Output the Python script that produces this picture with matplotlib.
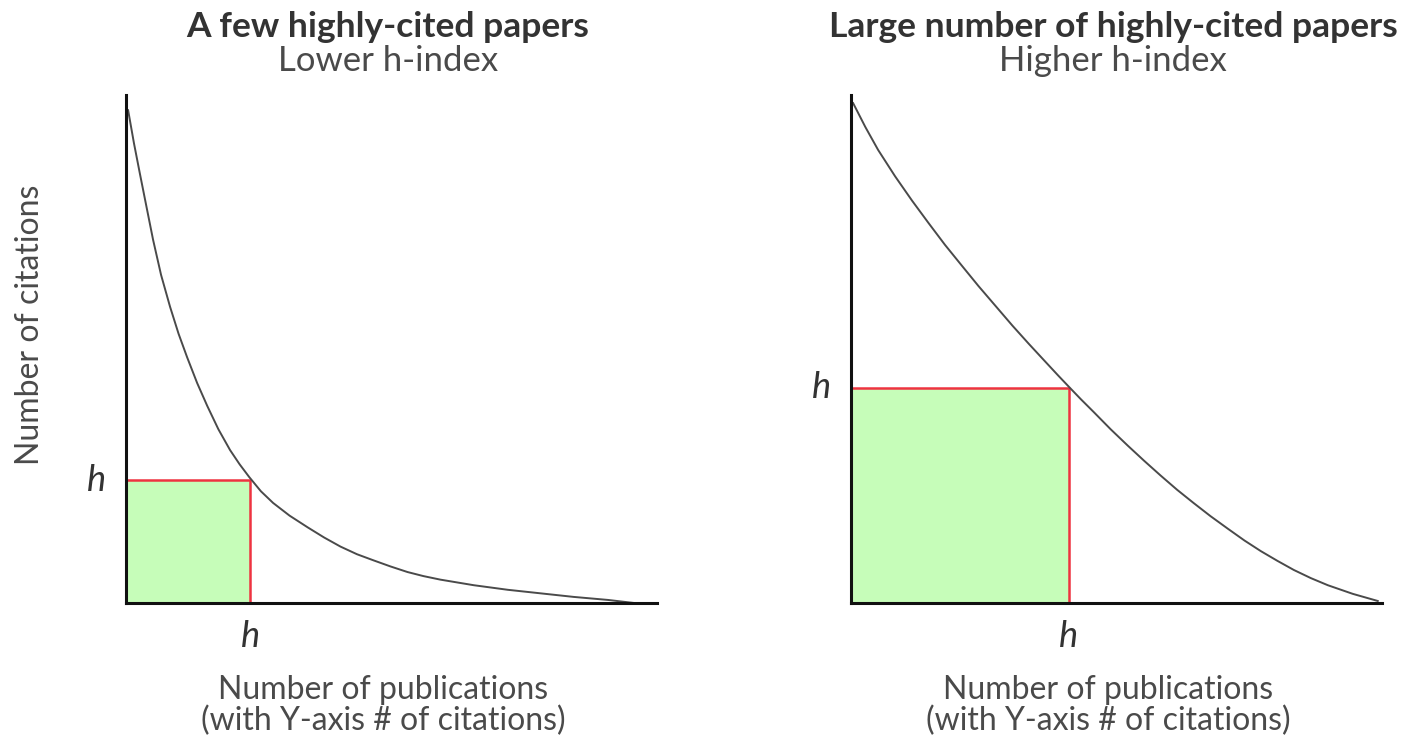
import matplotlib
matplotlib.use("Agg")
import matplotlib.pyplot as plt
from matplotlib.patches import Rectangle

plt.rcParams['font.family'] = ['Lato', 'DejaVu Sans']

# curve (x: publications rank, y: citations), both scaled 0..100
few_x = [0.4, 1.5, 2.6, 3.8, 5.1, 6.6, 8.3, 9.9, 11.5, 13.4, 15.3, 17.4, 19.6,
         21.4, 23.2, 25.4, 27.7, 30.8, 34.2, 37.3, 40.4, 43.5, 46.6, 49.8,
         53.0, 56.0, 59.2, 65.5, 71.9, 78.1, 84.3, 90.8, 95.7]
few_y = [97.0, 90.5, 84.6, 78.3, 71.5, 64.6, 58.3, 53.0, 48.4, 43.3, 38.8, 34.2,
         30.1, 27.3, 24.8, 22.0, 19.7, 17.2, 14.9, 12.9, 11.1, 9.6, 8.4, 7.2,
         6.1, 5.3, 4.6, 3.5, 2.6, 1.9, 1.2, 0.6, 0.0]
few_h = (23.4, 24.2)   # (publications, citations) of the h corner

many_x = [0.4, 2.7, 5.1, 8.3, 11.5, 14.6, 17.7, 20.8, 24.0, 27.2, 30.4, 33.5,
          36.6, 39.0, 41.0, 43.3, 45.7, 48.9, 52.1, 55.2, 58.3, 61.4, 64.5,
          67.7, 71.0, 74.1, 77.2, 80.3, 83.4, 86.6, 89.8, 94.5, 99.2]
many_y = [98.4, 93.7, 89.2, 84.0, 79.2, 74.8, 70.5, 66.5, 62.4, 58.5, 54.6, 51.0,
          47.5, 44.8, 42.6, 40.1, 37.6, 34.2, 31.0, 28.0, 25.1, 22.3, 19.7,
          17.1, 14.6, 12.3, 10.2, 8.3, 6.5, 4.9, 3.5, 1.8, 0.4]
many_h = (41.0, 42.4)

titles = ["A few highly-cited papers", "Large number of highly-cited papers"]
subtitles = ["Lower h-index", "Higher h-index"]
xlabel = ["Number of publications", "(with Y-axis # of citations)"]
ylabel = "Number of citations"

W, H = 1414, 738
fig = plt.figure(figsize=(W / 100, H / 100), dpi=100)


def panel(left_px, xs, ys, h, title, subtitle):
    hx, hy = h
    ax = fig.add_axes([left_px / W, (H - 603) / H, 531 / W, 508 / H])
    ax.set_xlim(0, 100)
    ax.set_ylim(0, 100)
    for s in ['top', 'right']:
        ax.spines[s].set_visible(False)
    for s in ['left', 'bottom']:
        ax.spines[s].set_linewidth(2.2)
        ax.spines[s].set_color('#111111')
        ax.spines[s].set_zorder(5)
    ax.set_xticks([])
    ax.set_yticks([])
    ax.add_patch(Rectangle((0, 0), hx, hy, facecolor='#c6fdb9', edgecolor='none', zorder=1))
    ax.plot([0, hx, hx], [hy, hy, 0], color='#ee3340', lw=1.8, zorder=3, clip_on=False)
    ax.plot(xs, ys, color='#4a4a4a', lw=1.4, zorder=4, clip_on=False,
            solid_joinstyle='round')
    ax.text(-5.5, hy, 'h', ha='center', va='center', fontsize=26, style='italic',
            color='#333333', clip_on=False)
    ax.text(hx, -6.5, 'h', ha='center', va='center', fontsize=26, style='italic',
            color='#333333', clip_on=False)
    cx = (left_px + 262) / W
    fig.text(cx, 1 - 27 / H, title, ha='center', va='center', fontsize=25.5,
             fontweight='bold', color='#333333')
    fig.text(cx, 1 - 61 / H, subtitle, ha='center', va='center', fontsize=25,
             color='#4a4a4a')
    fig.text(cx - 5 / W, 1 - 690 / H, xlabel[0], ha='center', va='center',
             fontsize=23, color='#4a4a4a')
    fig.text(cx - 5 / W, 1 - 721 / H, xlabel[1], ha='center', va='center',
             fontsize=23, color='#4a4a4a')
    return ax


panel(126, few_x, few_y, few_h, titles[0], subtitles[0])
panel(851, many_x, many_y, many_h, titles[1], subtitles[1])
fig.text(30 / W, 1 - 325 / H, ylabel, rotation=90, ha='center', va='center',
         fontsize=23, color='#4a4a4a')

fig.savefig('out.png', dpi=100)
